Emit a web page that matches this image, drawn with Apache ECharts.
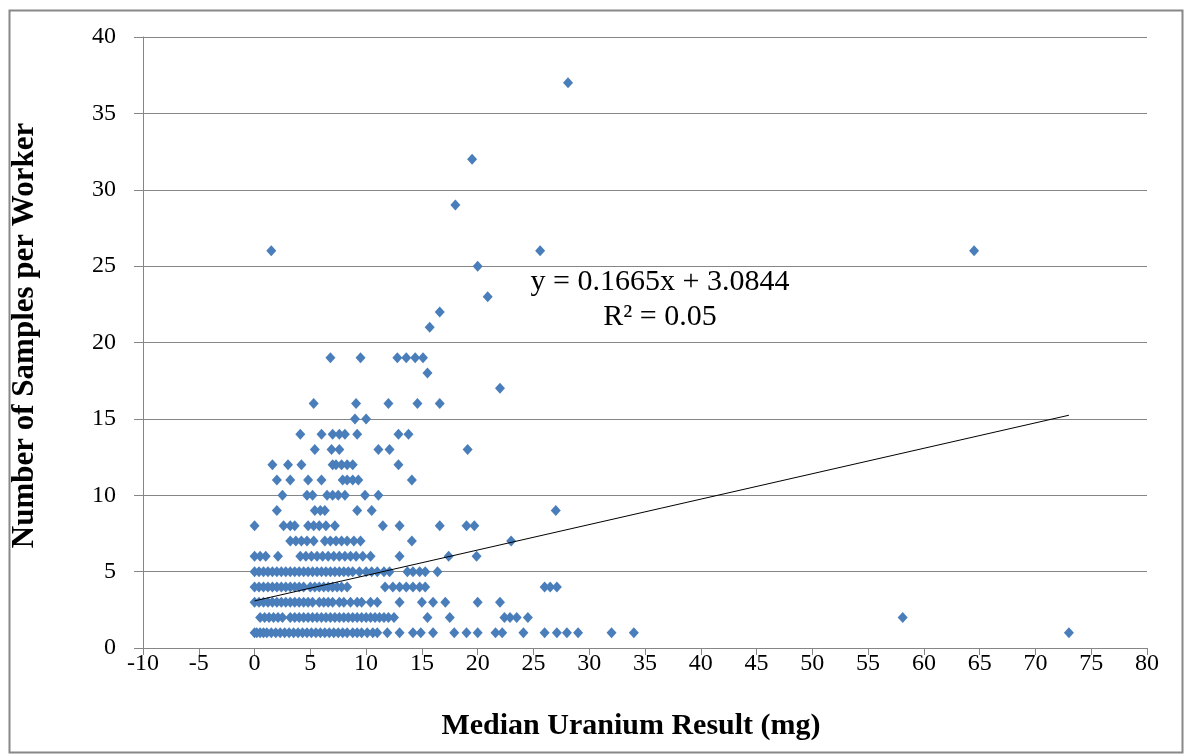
<!DOCTYPE html>
<html><head><meta charset="utf-8">
<script src="https://cdn.jsdelivr.net/npm/echarts@6/dist/echarts.min.js"></script>
<style>html,body{margin:0;padding:0;background:#fff}#c{width:1187px;height:756px}</style>
</head><body><div id="c"></div>
<script>
// Median uranium result (mg) of each worker, grouped by number of samples per worker
const n1 = [0,0.2,0.5,0.8,1.1,1.5,1.9,2.3,2.7,3.1,3.5,3.9,4.3,4.7,5.1,5.5,5.9,6.3,6.7,7.1,7.5,7.9,8.3,8.8,9.2,9.6,10.1,10.6,11,11.9,13,14.2,14.9,16,17.9,19,20,21.6,22.2,24.1,26,27.1,28,29,32,34,73];
const n2 = [0.5,0.9,1.3,1.7,2.1,2.5,3.2,3.6,4.0,4.4,4.8,5.2,5.6,6.0,6.4,6.8,7.2,7.6,8.0,8.4,8.8,9.2,9.6,10.0,10.4,10.8,11.2,11.6,12.0,12.5,15.5,17.5,22.4,22.9,23.5,24.5,58.1];
const n3 = [0,0.4,0.8,1.2,1.6,2.0,2.4,2.8,3.2,3.6,4.0,4.4,4.8,5.2,5.8,6.2,6.6,7.0,7.6,8.0,8.6,9.2,9.6,10.4,11.0,13.0,15.0,16.0,17.1,20.0,22.0];
const n4 = [0,0.4,0.8,1.2,1.6,2.0,2.4,2.8,3.2,3.6,4.0,4.4,5.0,5.4,5.8,6.2,6.6,7.0,7.4,7.8,8.3,11.7,12.4,13.0,13.6,14.2,14.8,15.3,26.0,26.5,27.1];
const n5 = [0,0.4,0.8,1.2,1.6,2.0,2.4,2.8,3.2,3.6,4.0,4.4,4.8,5.2,5.6,6.0,6.4,6.8,7.2,7.6,8.0,8.4,8.8,9.4,10.0,10.5,11.0,11.6,12.1,13.7,14.2,14.8,15.3,16.4];
const n6 = [0,0.5,1.0,2.1,4.1,4.6,5.1,5.6,6.1,6.6,7.1,7.6,8.1,8.6,9.1,9.7,10.4,13.0,17.4,19.9];
const n7 = [3.2,3.7,4.2,4.7,5.3,6.3,6.8,7.3,7.8,8.3,8.9,9.5,14.1,23.0];
const n8 = [0,2.6,3.2,3.6,4.8,5.3,5.8,6.4,7.2,11.5,13.0,16.6,19.0,19.7];
const n9 = [2.0,5.4,5.9,6.3,9.2,10.5,27.0];
const n10 = [2.5,4.7,5.2,6.5,7.0,7.5,8.1,9.9,11.1];
const n11 = [2.0,3.2,4.8,6.0,7.9,8.3,8.8,9.3,14.1];
const n12 = [1.6,3.0,4.2,7.0,7.3,7.8,8.3,8.8,12.9];
const n13 = [5.4,6.9,7.6,11.1,12.1,19.1];
const n14 = [4.1,6.0,7.0,7.6,8.1,9.2,12.9,13.8];
const n15 = [9.0,10.0];
const n16 = [5.3,9.1,12.0,14.6,16.6];
const n17 = [22.0];
const n18 = [15.5];
const n19 = [6.8,9.5,12.8,13.6,14.4,15.1];
const n21 = [15.7];
const n22 = [16.6];
const n23 = [20.9];
const n25 = [20.0];
const n26 = [1.5,25.6,64.5];
const n29 = [18.0];
const n32 = [19.5];
const n37 = [28.1];

const sampleCounts = [1,2,3,4,5,6,7,8,9,10,11,12,13,14,15,16,17,18,19,21,22,23,25,26,29,32,37];
const groups = [n1,n2,n3,n4,n5,n6,n7,n8,n9,n10,n11,n12,n13,n14,n15,n16,n17,n18,n19,n21,n22,n23,n25,n26,n29,n32,n37];

// linear trendline from the reference: y = slope*x + intercept, over x range
const trendSlope = 0.1665;
const trendIntercept = 3.0844;
const trendRange = [0, 73];
const equationLines = ['y = 0.1665x + 3.0844', 'R² = 0.05'];

const points = [];
groups.forEach((g, i) => g.forEach(x => points.push([x, sampleCounts[i]])));
const trend = trendRange.map(x => [x, trendSlope * x + trendIntercept]);

const serif = '"Liberation Serif", "DejaVu Serif", serif';
const chart = echarts.init(document.getElementById('c'), null, {renderer: 'canvas'});
chart.setOption({
  animation: false,
  backgroundColor: '#fff',
  grid: {left: 143, right: 40, top: 37, bottom: 108, containLabel: false},
  xAxis: {
    type: 'value', min: -10, max: 80, interval: 5,
    axisLine: {show: true, onZero: false, lineStyle: {color: '#868686', width: 1}},
    axisTick: {show: true, length: 7, lineStyle: {color: '#868686'}},
    splitLine: {show: false},
    axisLabel: {color: '#000', fontFamily: serif, fontSize: 24, margin: 4},
    name: 'Median Uranium Result (mg)', nameLocation: 'middle', nameGap: 63,
    nameTextStyle: {color: '#000', fontFamily: serif, fontSize: 30, fontWeight: 'bold', padding: [0, 28, 0, 0]}
  },
  yAxis: {
    type: 'value', min: 0, max: 40, interval: 5,
    axisLine: {show: true, onZero: false, lineStyle: {color: '#868686', width: 1}},
    axisTick: {show: true, length: 9, lineStyle: {color: '#868686'}},
    splitLine: {show: true, lineStyle: {color: '#868686', width: 1}},
    axisLabel: {color: '#000', fontFamily: serif, fontSize: 24, margin: 27},
    name: 'Number of Samples per Worker', nameLocation: 'middle', nameGap: 103,
    nameTextStyle: {color: '#000', fontFamily: serif, fontSize: 31, fontWeight: 'bold', padding: [0, 0, 0, 14]}
  },
  series: [
    {
      type: 'scatter', data: points, symbol: 'diamond', symbolSize: [10, 11],
      itemStyle: {color: '#4A7EBB', opacity: 1}, z: 2
    },
    {
      type: 'line', data: trend, showSymbol: false, symbol: 'none',
      lineStyle: {color: '#000', width: 1}, z: 3, silent: true
    }
  ],
  graphic: [
    {type: 'rect', left: 7, top: 8, shape: {width: 1173, height: 742},
     style: {fill: 'none', stroke: '#888', lineWidth: 2}, silent: true},
    {type: 'text', x: 660, y: 282, style: {text: equationLines[0], font: '30px ' + serif, fill: '#000', align: 'center', verticalAlign: 'middle'}},
    {type: 'text', x: 660, y: 317, style: {text: equationLines[1], font: '30px ' + serif, fill: '#000', align: 'center', verticalAlign: 'middle'}}
  ]
});
</script></body></html>
